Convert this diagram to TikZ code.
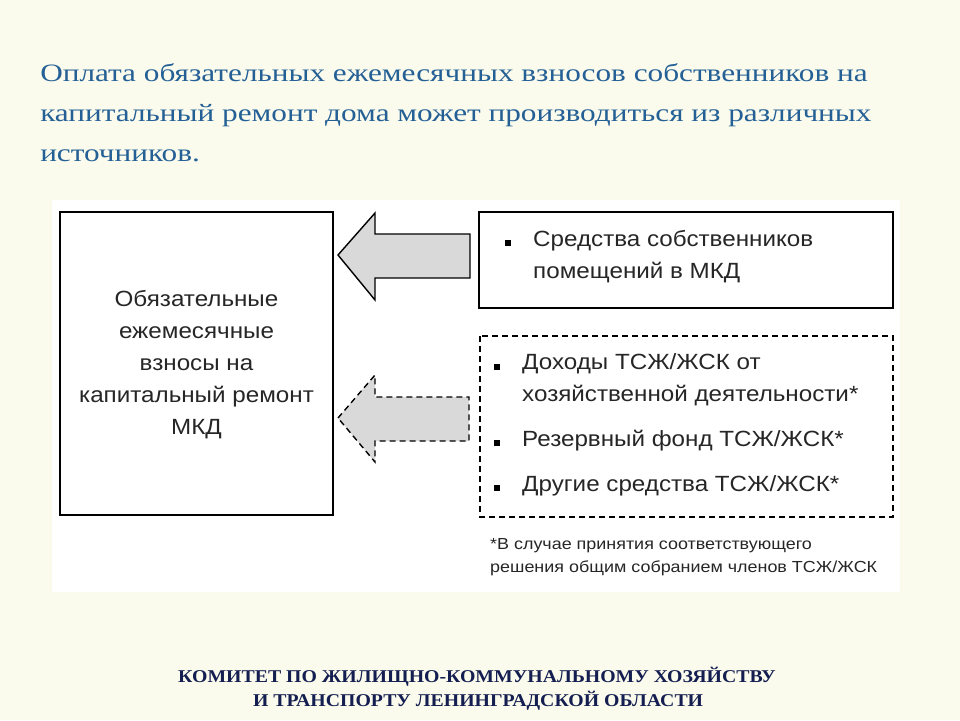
\documentclass[tikz,border=0pt]{standalone}
\usepackage{fontspec}
\setmainfont{Liberation Serif}
\newfontfamily\arial{Liberation Sans}
\begin{document}
\begin{tikzpicture}[x=1pt,y=-1pt,
  txt/.style={font=\arial\fontsize{22}{32}\selectfont,text=black!85,inner sep=0,xscale=1.1},
  dsh/.style={dash pattern=on 6pt off 4pt},
  arr/.style={draw=black,fill=black!15,line width=1.4pt,line join=miter}]
\useasboundingbox (0,0) rectangle (960,720);
\fill[color={rgb,255:red,250;green,251;blue,236}] (0,0) rectangle (960,720);
\fill[white] (52,200) rectangle (900,592);
\node[anchor=north west,inner sep=0,align=left,xscale=1.25,text={rgb,255:red,36;green,96;blue,150},font=\fontsize{25}{40}\selectfont] (title) at (40,63) {Оплата обязательных ежемесячных взносов собственников на\\капитальный ремонт дома может производиться из различных\\источников.};
\draw[line width=1.2pt] (60,212) rectangle (333,515);
\node[txt,align=center] (L) at (196.5,365) {Обязательные\\ежемесячные\\взносы на\\капитальный ремонт\\МКД};
\draw[line width=1.2pt] (479,212) rectangle (893,308);
\draw[line width=1.2pt,dsh] (480,336) rectangle (893,517);
\draw[arr] (338,255) -- (375,213) -- (375,234) -- (470,234) -- (470,278) -- (375,278) -- (375,300) -- cycle;
\draw[arr,dsh] (338,418) -- (375,375) -- (375,397) -- (469,397) -- (469,441) -- (375,441) -- (375,462) -- cycle;
\node[txt,anchor=north west,align=left] (t1) at (533,230) {Средства собственников\\помещений в МКД};
\fill (505,240) rectangle (511,246);
\node[txt,anchor=north west,align=left] (t2) at (522,353) {Доходы ТСЖ/ЖСК от\\хозяйственной деятельности*};
\node[txt,anchor=north west] (t3) at (522,430) {Резервный фонд ТСЖ/ЖСК*};
\node[txt,anchor=north west] (t4) at (522,475) {Другие средства ТСЖ/ЖСК*};
\foreach \y in {364,440,485} \fill (494,\y) rectangle (500,\y+6);
\node[anchor=north west,align=left,inner sep=0,xscale=1.12,text=black!85,font=\arial\fontsize{16}{23}\selectfont] (note) at (490,538) {*В случае принятия соответствующего\\решения общим собранием членов ТСЖ/ЖСК};
\node[anchor=north west,align=left,inner sep=0,xscale=1.1,text={rgb,255:red,20;green,30;blue,80},font=\bfseries\fontsize{18}{24}\selectfont] (foot) at (178,667) {КОМИТЕТ ПО ЖИЛИЩНО-КОММУНАЛЬНОМУ ХОЗЯЙСТВУ\\\hspace*{68pt}И ТРАНСПОРТУ ЛЕНИНГРАДСКОЙ ОБЛАСТИ};
\end{tikzpicture}
\end{document}
